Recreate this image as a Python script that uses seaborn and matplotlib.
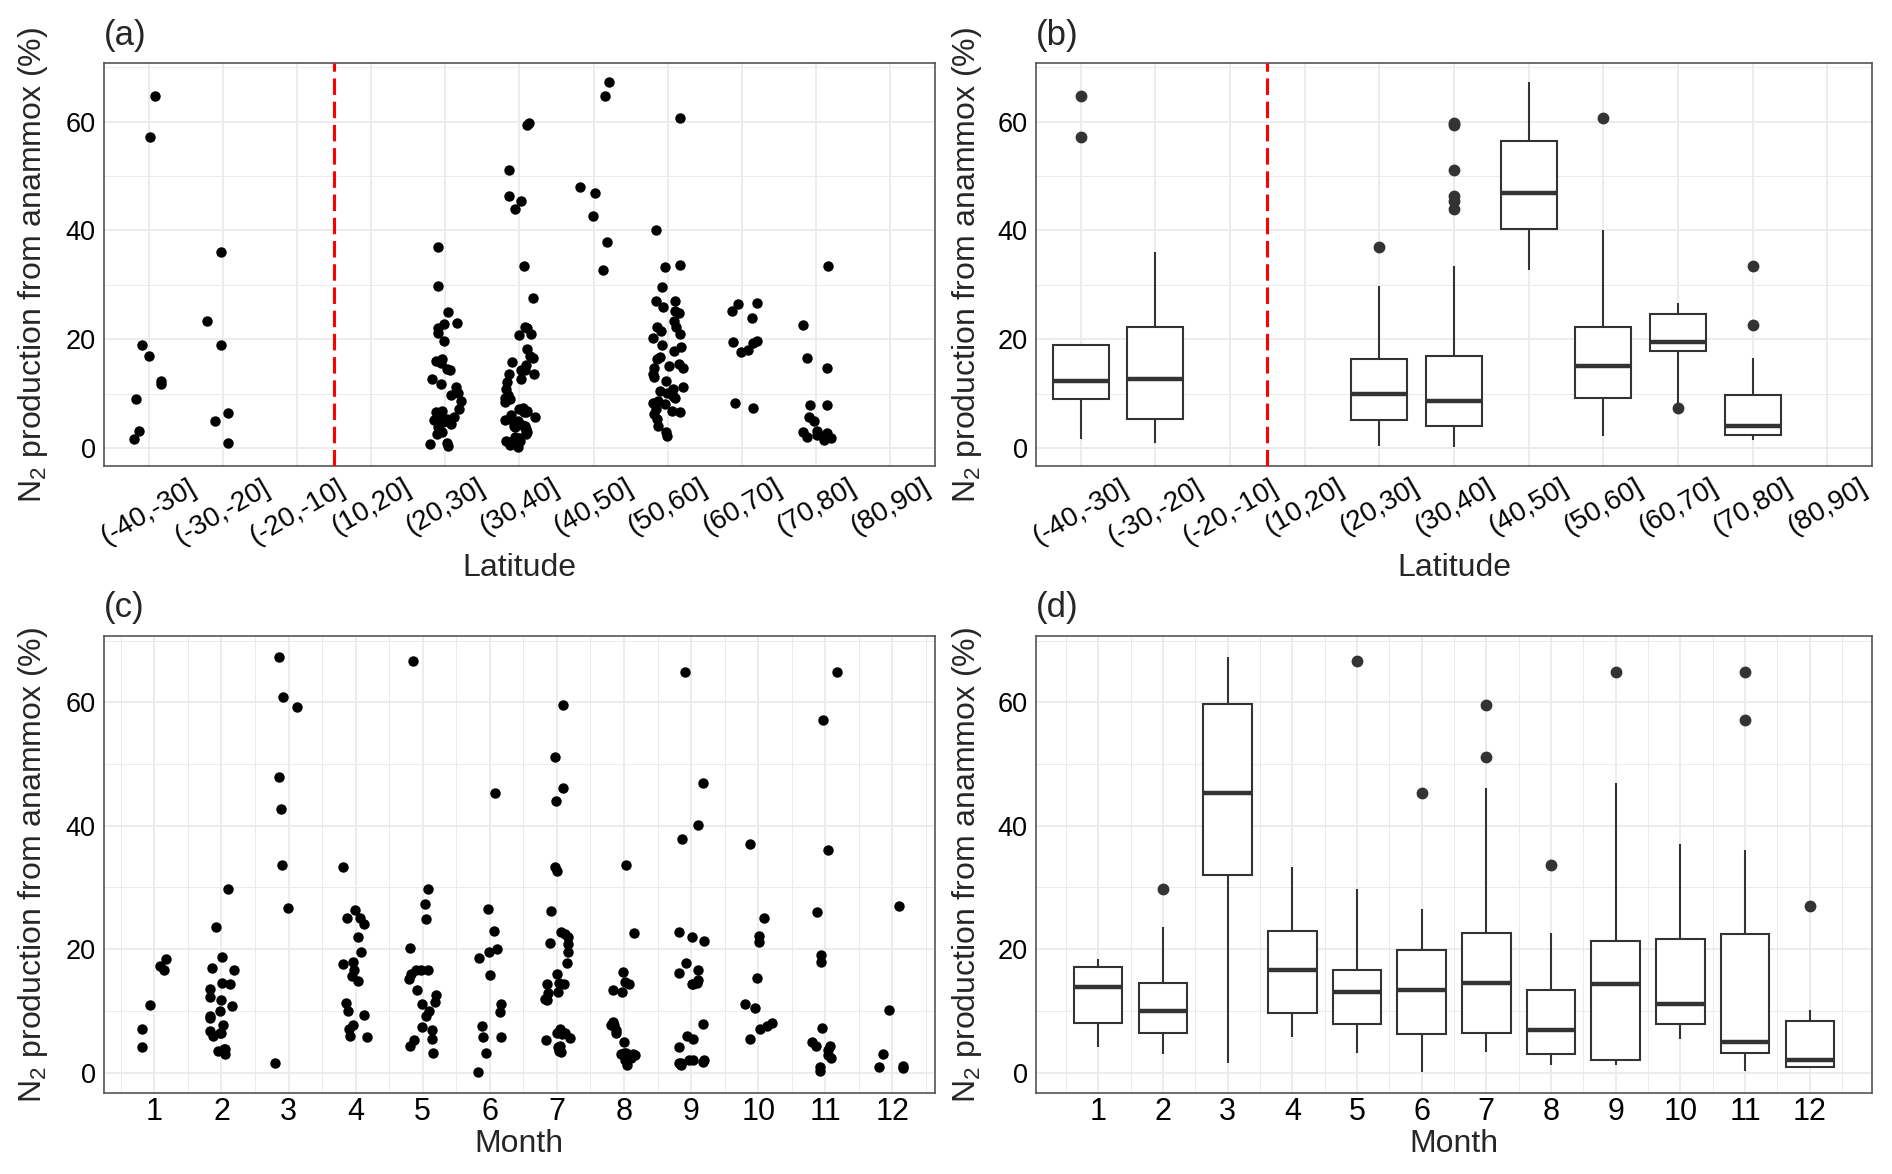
import numpy as np
import pandas as pd
import matplotlib
matplotlib.use("Agg")
import matplotlib.pyplot as plt
import seaborn as sns

# ---------------------------------------------------------
# Data: N2 production from anammox (%)
# ---------------------------------------------------------

lat_bins = ["(-40,-30]", "(-30,-20]", "(-20,-10]", "(10,20]", "(20,30]", "(30,40]",
            "(40,50]", "(50,60]", "(60,70]", "(70,80]", "(80,90]"]

lat_m40_m30 = [57.1, 64.8, 18.9, 17.0, 12.4, 11.7, 9.0, 3.1, 1.6]
lat_m30_m20 = [36.0, 23.4, 19.0, 6.4, 4.9, 1.0]
lat_20_30 = [0.3, 0.7, 1.0, 2.6, 2.9, 3.8, 4.4, 4.8, 5.1, 5.4, 5.7, 6.2, 6.6, 6.9, 7.2, 8.7,
             9.8, 10.1, 11.2, 11.8, 12.7, 14.4, 14.6, 15.6, 16.0, 16.4, 19.7, 21.2, 22.1,
             22.9, 23.0, 25.0, 29.8, 37.0]
lat_30_40 = [0.2, 0.6, 1.2, 1.4, 1.4, 1.9, 2.0, 2.6, 3.0, 3.2, 3.5, 3.8, 4.0, 4.1, 4.3, 4.6,
             5.0, 5.2, 5.4, 5.7, 6.1, 6.6, 6.6, 6.9, 7.1, 7.4, 8.4, 9.2, 9.1, 9.8, 10.9, 12.1,
             12.7, 13.7, 13.7, 14.3, 14.3, 15.2, 15.8, 16.6, 17.0, 18.3, 20.7, 21.0, 22.0,
             22.3, 27.5, 33.4, 44.0, 45.5, 46.3, 51.2, 59.3, 59.7]
lat_40_50 = [67.3, 64.8, 46.9, 48.0, 42.7, 37.9, 32.7]
lat_50_60 = [2.2, 2.9, 4.1, 5.3, 6.3, 6.6, 6.9, 7.2, 8.1, 8.2, 8.7, 9.3, 9.6, 10.2, 10.5,
             10.9, 11.2, 12.4, 13.0, 13.6, 14.8, 14.8, 15.0, 15.5, 16.4, 16.7, 17.9, 18.5,
             19.0, 20.2, 21.0, 21.6, 22.2, 22.3, 23.4, 24.8, 25.2, 25.9, 27.0, 27.1, 29.7,
             33.3, 33.7, 40.1, 60.7]
lat_60_70 = [24.0, 26.6, 26.4, 25.2, 19.5, 19.3, 19.6, 18.0, 17.6, 8.2, 7.4]
lat_70_80 = [33.5, 22.7, 16.6, 14.8, 8.0, 7.9, 5.7, 4.9, 3.1, 2.9, 2.7, 2.5, 2.3, 2.1,
             1.9, 1.5]

months = [1, 2, 3, 4, 5, 6, 7, 8, 9, 10, 11, 12]
m01 = [11.0, 18.4, 17.3, 16.6, 7.1, 4.1]
m02 = [29.7, 23.6, 18.8, 16.9, 16.6, 14.6, 14.3, 13.6, 11.8, 12.3, 10.8, 10.0, 9.1, 8.8,
       7.7, 6.7, 6.0, 6.5, 6.5, 3.9, 3.9, 3.5, 3.0]
m03 = [67.3, 60.8, 59.3, 47.9, 42.7, 33.7, 26.7, 1.6]
m04 = [33.3, 26.3, 25.1, 25.1, 24.1, 21.9, 19.6, 17.9, 17.6, 16.7, 15.7, 14.9, 11.3, 10.0,
       9.4, 7.1, 7.7, 5.8, 6.0]
m05 = [66.7, 29.8, 27.3, 24.9, 20.2, 16.7, 15.2, 16.6, 16.7, 16.0, 13.4, 12.6, 11.4, 11.1,
       10.0, 9.1, 7.4, 6.9, 5.3, 5.5, 4.3, 3.1]
m06 = [45.3, 26.5, 23.0, 19.6, 20.0, 18.5, 15.8, 9.9, 11.1, 7.6, 5.8, 5.8, 3.2, 0.1]
m07 = [59.6, 51.1, 46.2, 44.0, 32.6, 33.4, 26.2, 22.0, 22.8, 22.5, 20.8, 21.0, 19.5, 17.8,
       16.0, 14.6, 14.4, 14.4, 12.9, 13.1, 11.8, 11.9, 7.0, 6.4, 6.2, 6.5, 5.6, 5.3, 4.3,
       3.5, 3.3, 4.1]
m08 = [33.6, 22.7, 16.3, 14.7, 14.4, 13.4, 13.1, 8.2, 7.7, 7.7, 6.9, 6.5, 4.9, 3.2, 3.0,
       3.2, 2.9, 3.0, 2.3, 2.0, 1.3]
m09 = [64.9, 47.0, 40.1, 37.9, 22.0, 21.4, 22.8, 17.8, 16.7, 16.1, 15.0, 14.4, 14.5, 14.3,
       7.9, 5.9, 5.5, 4.1, 2.1, 2.1, 2.0, 1.8, 1.6, 1.5, 1.3]
m10 = [37.0, 25.0, 22.2, 21.1, 15.3, 11.2, 10.4, 8.0, 7.6, 7.1, 5.5]
m11 = [64.9, 57.1, 36.0, 26.0, 19.0, 18.0, 7.2, 5.0, 4.3, 4.3, 3.6, 2.9, 2.3, 0.9, 0.3]
m12 = [27.0, 10.2, 3.0, 0.7, 0.85, 1.0]

lat_groups = {
    "(-40,-30]": lat_m40_m30, "(-30,-20]": lat_m30_m20, "(20,30]": lat_20_30,
    "(30,40]": lat_30_40, "(40,50]": lat_40_50, "(50,60]": lat_50_60,
    "(60,70]": lat_60_70, "(70,80]": lat_70_80,
}
month_groups = [m01, m02, m03, m04, m05, m06, m07, m08, m09, m10, m11, m12]

df_lat = pd.DataFrame([(k, v) for k, vals in lat_groups.items() for v in vals],
                      columns=["Latitude", "N2"])
df_mon = pd.DataFrame([(str(m), v) for m, vals in zip(months, month_groups) for v in vals],
                      columns=["Month", "N2"])
month_order = [str(m) for m in months]

# ---------------------------------------------------------
# Style
# ---------------------------------------------------------
sns.set_style("white")
plt.rcParams["font.family"] = ["Liberation Sans", "DejaVu Sans"]
plt.rcParams["mathtext.fontset"] = "custom"
plt.rcParams["mathtext.rm"] = "Liberation Sans"
plt.rcParams["mathtext.default"] = "regular"

GRID = "#EBEBEB"
DARK = "#333333"
ylab = "N$_2$ production from anammox (%)"

fig = plt.figure(figsize=(18.92, 11.74), dpi=100)
ax_a = fig.add_axes([0.055, 0.603, 0.439, 0.343])
ax_b = fig.add_axes([0.5476, 0.603, 0.4418, 0.343])
ax_c = fig.add_axes([0.055, 0.069, 0.439, 0.389])
ax_d = fig.add_axes([0.5476, 0.069, 0.4418, 0.389])


def style_axes(ax, ylab_x, xminor=None):
    ax.set_ylim(-3.3, 70.7)
    ax.set_yticks([0, 20, 40, 60])
    ax.set_yticks([10, 30, 50, 70], minor=True)
    if xminor is not None:
        ax.set_xticks(xminor, minor=True)
    ax.grid(True, which="major", color=GRID, linewidth=1.3)
    ax.grid(True, which="minor", color=GRID, linewidth=0.7)
    ax.set_axisbelow(True)
    for s in ax.spines.values():
        s.set_color("#555555")
        s.set_linewidth(1.2)
    ax.tick_params(which="major", length=4, width=1.1, color=DARK)
    ax.tick_params(which="minor", length=0)
    ax.tick_params(axis="y", labelsize=19.5, pad=2, labelcolor="black")
    ax.set_ylabel(ylab, fontsize=23)
    ax.yaxis.label.set_va("center")
    ax.yaxis.set_label_coords(ylab_x, 0.5)


np.random.seed(3)

box_kw = dict(color="white", linecolor=DARK, linewidth=1.5, width=0.75, fliersize=7.5,
              showcaps=False, medianprops={"linewidth": 3.2},
              flierprops={"markerfacecolor": DARK, "markeredgecolor": DARK})

# (a) latitude scatter
sns.stripplot(data=df_lat, x="Latitude", y="N2", order=lat_bins, jitter=0.22,
              color="black", size=7.5, linewidth=0, ax=ax_a, zorder=3)
# (b) latitude boxplot
sns.boxplot(data=df_lat, x="Latitude", y="N2", order=lat_bins, ax=ax_b, **box_kw)
for ax, yx in ((ax_a, -0.0855), (ax_b, -0.0825)):
    style_axes(ax, yx)
    ax.set_xlim(-0.6, 10.6)
    ax.axvline(2.5, color="#FF0000", linestyle=(0, (5.4, 2.2)), linewidth=2.2, zorder=4)
    ax.set_xticks(range(len(lat_bins)))
    ax.set_xticklabels(lat_bins, rotation=30, ha="center", va="top", fontsize=20)
    ax.tick_params(axis="x", pad=2, labelcolor="black")
    ax.set_xlabel("Latitude", fontsize=23)
    ax.xaxis.label.set_va("center")
    ax.xaxis.set_label_coords(0.5, -0.253)

# (c) month scatter
sns.stripplot(data=df_mon, x="Month", y="N2", order=month_order, jitter=0.2,
              color="black", size=7.5, linewidth=0, ax=ax_c, zorder=3)
# (d) month boxplot
sns.boxplot(data=df_mon, x="Month", y="N2", order=month_order, ax=ax_d, **box_kw)
half = [i - 0.5 for i in range(13)]
style_axes(ax_c, -0.0855, half)
style_axes(ax_d, -0.0825, half)
ax_c.set_xlim(-0.75, 11.63)
ax_d.set_xlim(-0.96, 11.96)
for ax in (ax_c, ax_d):
    ax.set_xticks(range(12))
    ax.set_xticklabels(month_order, fontsize=22)
    ax.tick_params(axis="x", pad=-1, labelcolor="black")
    ax.set_xlabel("Month", fontsize=23)
    ax.xaxis.label.set_va("center")
    ax.xaxis.set_label_coords(0.5, -0.1116)

for ax, lab in zip((ax_a, ax_b, ax_c, ax_d), ("(a)", "(b)", "(c)", "(d)")):
    ax.text(0.0, 1.028, lab, transform=ax.transAxes, fontsize=25, ha="left", va="bottom")

fig.savefig("out.png", dpi=100)
